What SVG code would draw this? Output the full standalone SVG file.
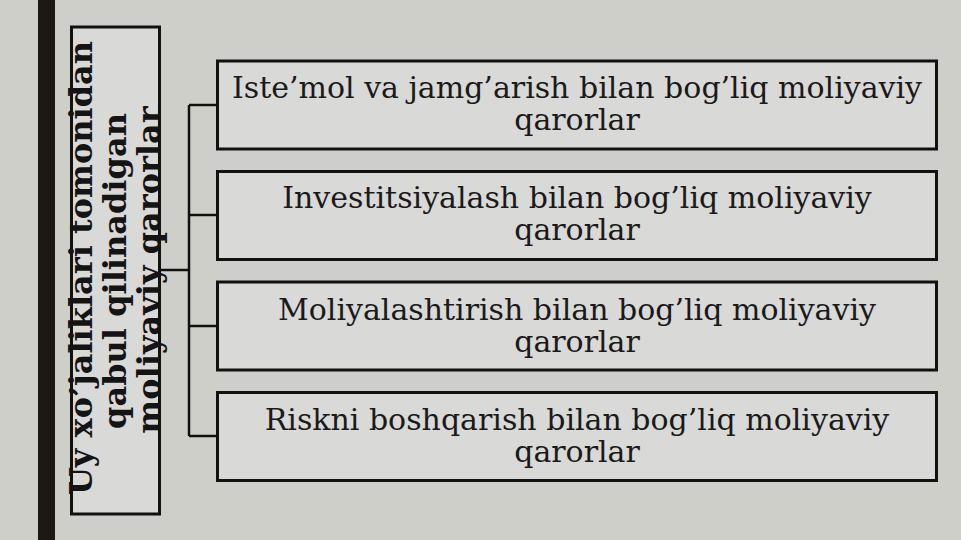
<svg xmlns="http://www.w3.org/2000/svg" width="961" height="540" viewBox="0 0 961 540">
<style>
.box{fill:#d9d9d8;stroke:#111;stroke-width:3}
.lbl{font-family:"DejaVu Serif","Liberation Serif",serif;font-size:30px;fill:#1a1a1a;text-anchor:middle}
.side{font-family:"DejaVu Serif","Liberation Serif",serif;font-size:32px;font-weight:bold;fill:#141414;text-anchor:middle}
.conn{fill:none;stroke:#111;stroke-width:2.5}
</style>
<rect x="0" y="0" width="961" height="540" fill="#cfcfca"/>
<rect x="38" y="0" width="17" height="540" fill="#1c1814"/>
<g id="root">
<rect class="box" x="71.5" y="27" width="88" height="487" fill="#d6d6d5"/>
<text class="side" transform="rotate(-90)"><tspan x="-268" y="92">Uy xo’jaliklari tomonidan</tspan><tspan x="-271" y="126">qabul qilinadigan</tspan><tspan x="-270" y="160">moliyaviy qarorlar</tspan></text>
</g>
<g id="connectors">
<path class="conn" d="M160 270H189M189 105V436M189 105H217M189 215H217M189 326H217M189 436H217"/>
</g>
<g id="n1">
<rect class="box" x="217.5" y="61" width="719" height="88"/>
<text class="lbl"><tspan x="577" y="98">Iste’mol va jamg’arish bilan bog’liq moliyaviy</tspan><tspan x="577" y="130">qarorlar</tspan></text>
</g>
<g id="n2">
<rect class="box" x="217.5" y="171.5" width="719" height="88"/>
<text class="lbl"><tspan x="577" y="208">Investitsiyalash bilan bog’liq moliyaviy</tspan><tspan x="577" y="240">qarorlar</tspan></text>
</g>
<g id="n3">
<rect class="box" x="217.5" y="282" width="719" height="88"/>
<text class="lbl"><tspan x="577" y="320">Moliyalashtirish bilan bog’liq moliyaviy</tspan><tspan x="577" y="352">qarorlar</tspan></text>
</g>
<g id="n4">
<rect class="box" x="217.5" y="392.5" width="719" height="88"/>
<text class="lbl"><tspan x="577" y="430">Riskni boshqarish bilan bog’liq moliyaviy</tspan><tspan x="577" y="462">qarorlar</tspan></text>
</g>
</svg>
